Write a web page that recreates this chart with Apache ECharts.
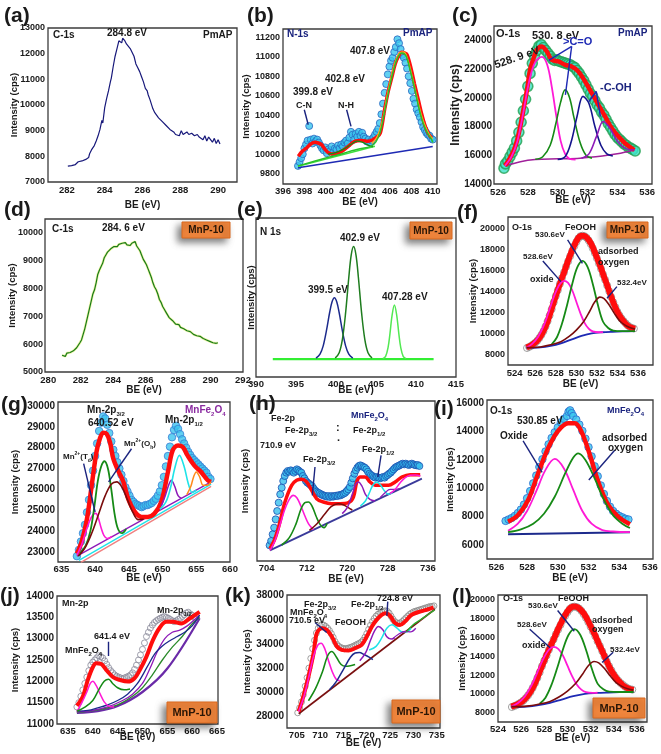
<!DOCTYPE html>
<html><head><meta charset="utf-8">
<script src="https://cdn.jsdelivr.net/npm/echarts@6/dist/echarts.min.js"></script>
<style>html,body{margin:0;padding:0;background:#fff}#c{width:661px;height:754px}</style>
</head><body><div id="c"></div>
<script>
// ---------------- tick labels ----------------
const aXT=[282,284,286,288,290], aYT=[7000,8000,9000,10000,11000,12000,13000];
const bXT=[396,398,400,402,404,406,408,410], bYT=[9800,10000,10200,10400,10600,10800,11000,11200];
const cXT=[526,528,530,532,534,536], cYT=[14000,16000,18000,20000,22000,24000];
const dXT=[280,282,284,286,288,290,292], dYT=[5000,6000,7000,8000,9000,10000];
const eXT=[390,395,400,405,410,415];
const fXT=[524,526,528,530,532,534,536], fYT=[8000,10000,12000,14000,16000,18000,20000];
const gXT=[635,640,645,650,655,660], gYT=[23000,24000,25000,26000,27000,28000,29000,30000];
const hXT=[704,712,720,728,736];
const iXT=[526,528,530,532,534,536], iYT=[6000,8000,10000,12000,14000,16000];
const jXT=[635,640,645,650,655,660,665], jYT=[11000,11500,12000,12500,13000,13500,14000];
const kXT=[705,710,715,720,725,730,735], kYT=[28000,30000,32000,34000,36000,38000];
const lXT=[524,526,528,530,532,534,536], lYT=[8000,10000,12000,14000,16000,18000,20000];

// ---------------- (a) C-1s PmAP ----------------
const aC1s=[[282.05,7620],[282.15,7600],[282.25,7640],[282.35,7610],[282.45,7680],[282.55,7700],[282.6,7790],[282.7,7740],[282.8,7820],[282.9,7780],[283.0,7880],[283.05,7830],[283.15,7950],[283.2,8100],[283.3,8250],[283.35,8180],[283.45,8420],[283.55,8600],[283.65,8800],[283.75,9050],[283.85,9400],[283.9,9300],[284.0,9900],[284.1,10250],[284.2,10550],[284.3,10900],[284.35,11050],[284.45,11500],[284.55,11900],[284.65,12200],[284.75,12500],[284.85,12560],[284.9,12420],[284.95,12600],[285.05,12520],[285.1,12580],[285.15,12380],[285.25,12450],[285.35,12200],[285.45,12150],[285.55,11900],[285.65,11600],[285.75,11450],[285.85,11300],[285.95,11100],[286.05,10900],[286.15,10650],[286.25,10550],[286.3,10400],[286.4,10200],[286.5,10150],[286.55,9850],[286.65,9700],[286.75,9650],[286.85,9500],[286.95,9450],[287.05,9350],[287.15,9300],[287.25,9200],[287.35,9150],[287.45,9050],[287.55,9000],[287.65,8950],[287.75,8850],[287.85,8900],[287.95,8800],[288.05,9000],[288.15,8850],[288.25,8900],[288.35,8950],[288.45,8850],[288.6,8900],[288.75,8800],[288.9,8850],[289.0,8750],[289.1,8800],[289.2,8650],[289.3,8800],[289.4,8600],[289.5,8750],[289.6,8650],[289.7,8550],[289.8,8700],[289.9,8500],[290.0,8650],[290.1,8480]];

// ---------------- (b) N-1s PmAP ----------------
const bData=[[397.4,9880],[397.55,9920],[397.7,9960],[397.85,10000],[398.0,10060],[398.15,10100],[398.3,10140],[398.45,10290],[398.6,10150],[398.75,10110],[398.9,10160],[399.05,10130],[399.2,10150],[399.35,10120],[399.5,10090],[399.65,10060],[399.8,10040],[399.95,10070],[400.1,10010],[400.25,10050],[400.4,10030],[400.55,10080],[400.7,10020],[400.85,10060],[401.0,10050],[401.15,10090],[401.3,10060],[401.45,10100],[401.6,10080],[401.75,10120],[401.9,10140],[402.05,10110],[402.2,10170],[402.35,10230],[402.5,10200],[402.65,10150],[402.8,10210],[402.95,10180],[403.1,10230],[403.25,10190],[403.4,10220],[403.55,10180],[403.7,10160],[403.85,10130],[404.0,10150],[404.15,10120],[404.3,10140],[404.45,10170],[404.6,10200],[404.75,10230],[404.9,10260],[405.05,10320],[405.2,10410],[405.35,10520],[405.5,10630],[405.65,10720],[405.8,10820],[405.95,10900],[406.1,10960],[406.25,10990],[406.4,11050],[406.55,11100],[406.7,11180],[406.85,11140],[407.0,11080],[407.15,11020],[407.3,10990],[407.45,10940],[407.6,10880],[407.75,10800],[407.9,10730],[408.05,10650],[408.2,10570],[408.35,10520],[408.5,10460],[408.65,10420],[408.8,10380],[408.95,10330],[409.1,10280],[409.25,10250],[409.4,10220],[409.55,10200],[409.7,10190],[409.85,10160],[410.0,10150]];
const bFit=[[397.43,9978],[397.8,10030],[398.2,10064],[398.6,10105],[398.99,10122],[399.3,10115],[399.6,10098],[399.9,10055],[400.2,10019],[400.55,10002],[400.9,10005],[401.2,10015],[401.5,10030],[402.1,10081],[402.7,10132],[403.35,10142],[403.98,10132],[404.4,10149],[404.75,10175],[405.1,10218],[405.5,10458],[405.85,10650],[406.2,10800],[406.5,10930],[406.8,11005],[407.1,11046],[407.35,11040],[407.6,11023],[408.0,10868],[408.3,10720],[408.65,10560],[409.0,10400],[409.3,10286],[409.6,10210],[409.9,10166]];
const bBig=[[397.4,9880],[399.0,9930],[401.0,9990],[403.0,10050],[404.2,10080],[404.7,10130],[405.1,10230],[405.5,10440],[405.9,10660],[406.3,10850],[406.7,10990],[407.1,11040],[407.5,11010],[407.9,10860],[408.3,10680],[408.7,10480],[409.1,10320],[409.5,10220],[409.9,10150],[410.0,10120]];
const bBigOr=[[404.3,10110],[404.8,10180],[405.3,10350],[405.7,10580],[406.1,10790],[406.5,10950],[406.9,11040],[407.3,11050],[407.7,10960],[408.1,10790],[408.5,10600],[408.9,10420],[409.3,10290],[409.7,10200],[410.0,10160]];
const bNH=[[400.2,10000],[401.0,10020],[401.8,10060],[402.4,10105],[402.9,10135],[403.4,10125],[403.9,10095],[404.4,10075]];
const bBg=[[397.4,9875],[404.6,10082]];
const bBase=[[397.4,9862],[410.0,10080]];

// ---------------- (c) O-1s PmAP ----------------
const cData=[[526.4,15100],[526.5,15400],[526.65,15600],[526.8,15900],[526.95,16200],[527.1,16500],[527.25,17000],[527.4,17600],[527.55,18300],[527.7,19100],[527.85,19900],[528.0,20800],[528.15,21700],[528.3,22400],[528.45,22900],[528.6,23300],[528.75,23600],[528.9,23700],[529.05,23500],[529.2,23300],[529.35,23100],[529.5,22900],[529.65,22700],[529.8,22600],[529.95,22650],[530.1,22550],[530.25,22500],[530.4,22450],[530.55,22400],[530.7,22350],[530.85,22300],[531.0,22200],[531.15,22100],[531.3,21900],[531.45,21700],[531.6,21450],[531.75,21200],[531.9,20900],[532.05,20600],[532.2,20300],[532.35,20100],[532.5,19800],[532.65,19500],[532.8,19300],[532.95,19000],[533.1,18800],[533.25,18500],[533.4,18200],[533.55,17950],[533.7,17700],[533.85,17450],[534.0,17250],[534.15,17100],[534.3,16950],[534.45,16800],[534.6,16700],[534.75,16550],[534.9,16500],[535.05,16400],[535.2,16300]];
const cFit=[[526.47,15280],[526.8,15800],[527.15,16600],[527.45,17800],[527.7,19150],[527.95,20600],[528.15,21950],[528.4,22800],[528.6,23350],[528.93,23580],[529.27,23230],[529.6,22650],[530.05,22530],[530.5,22300],[530.94,22180],[531.39,21830],[531.84,21140],[532.29,20330],[532.73,19510],[533.18,18700],[533.63,17880],[534.08,17300],[534.52,16840],[534.97,16490],[535.15,16370]];
const cMag=[[526.47,15280],[526.9,15900],[527.3,17000],[527.7,19000],[528.1,21200],[528.5,22500],[528.95,22850],[529.3,22300],[529.6,20800],[529.9,18800],[530.2,17000],[530.5,16100],[530.8,15750],[531.2,15700]];
const cGreen=[[528.5,15720],[529.0,15900],[529.5,16700],[529.9,18300],[530.2,19700],[530.5,20550],[530.8,20000],[531.1,18600],[531.5,16900],[531.9,16000],[532.3,15800]];
const cBlue=[[530.0,15700],[530.5,15900],[530.9,16900],[531.3,18700],[531.7,20100],[532.1,19600],[532.5,18000],[532.9,16700],[533.3,16100],[533.7,15950]];
const cPurple=[[531.6,15800],[532.1,16100],[532.6,17300],[533.06,18350],[533.5,17900],[534.0,17000],[534.5,16500],[535.15,16370]];
const cBase=[[526.47,15250],[527.5,15550],[528.5,15700],[530.0,15750],[531.5,15800],[533.0,15950],[534.0,16100],[535.15,16370]];

// ---------------- (d) C-1s MnP-10 ----------------
const dC1s=[[280.85,5600],[280.95,5650],[281.05,5560],[281.15,5680],[281.25,5620],[281.35,5700],[281.45,5650],[281.55,5760],[281.65,5800],[281.75,5870],[281.85,5930],[281.95,6050],[282.05,6150],[282.15,6350],[282.25,6550],[282.35,6800],[282.45,7050],[282.55,7300],[282.65,7550],[282.75,7800],[282.85,7950],[282.95,8200],[283.05,8500],[283.15,8650],[283.25,8700],[283.35,8900],[283.45,9100],[283.55,9200],[283.65,9300],[283.75,9350],[283.85,9420],[283.95,9480],[284.05,9500],[284.15,9540],[284.25,9500],[284.35,9580],[284.45,9560],[284.55,9620],[284.65,9580],[284.75,9640],[284.85,9560],[284.95,9600],[285.05,9540],[285.15,9620],[285.25,9560],[285.35,9680],[285.45,9520],[285.55,9480],[285.65,9350],[285.75,9200],[285.85,9050],[285.95,8950],[286.05,8850],[286.15,8700],[286.25,8550],[286.35,8400],[286.45,8200],[286.55,8050],[286.65,7950],[286.75,7800],[286.85,7600],[286.95,7500],[287.05,7350],[287.15,7250],[287.25,7150],[287.35,7050],[287.45,6950],[287.55,6900],[287.65,6850],[287.75,6780],[287.85,6720],[287.95,6650],[288.05,6700],[288.15,6600],[288.25,6620],[288.35,6550],[288.45,6500],[288.55,6480],[288.65,6420],[288.75,6450],[288.85,6380],[288.95,6350],[289.05,6320],[289.15,6300],[289.25,6260],[289.35,6280],[289.45,6220],[289.55,6200],[289.65,6180],[289.75,6150],[289.85,6120],[289.95,6100],[290.05,6080],[290.15,6050],[290.25,6100],[290.35,6030],[290.45,6050]];

// ---------------- (e) N 1s MnP-10 (relative units) ----------------
const eBlue=[[397.5,119],[398.0,144],[398.4,196],[398.8,290],[399.2,404],[399.5,472],[399.8,499],[400.1,472],[400.4,404],[400.8,290],[401.2,196],[401.6,144],[402.1,119]];
const eGreen=[[399.9,119],[400.4,153],[400.8,237],[401.2,403],[401.6,626],[401.9,766],[402.2,820],[402.5,766],[402.8,626],[403.2,403],[403.6,237],[404.0,153],[404.5,119]];
const eLight=[[405.85,115],[406.2,130],[406.5,183],[406.75,274],[407.0,385],[407.3,453],[407.6,385],[407.85,274],[408.1,183],[408.4,130],[408.75,115]];
const eBase=[[392.1,113],[412.2,113]];

// ---------------- (f)/(l) O-1s MnP-10 ----------------
const fData=[[525.2,8600],[525.4,8700],[525.6,8800],[525.8,8950],[526.0,9100],[526.2,9300],[526.4,9550],[526.6,9850],[526.8,10200],[527.0,10650],[527.2,11150],[527.4,11700],[527.6,12300],[527.8,12950],[528.0,13550],[528.2,14100],[528.4,14700],[528.6,15250],[528.8,15800],[529.0,16350],[529.2,16850],[529.4,17350],[529.6,17850],[529.8,18300],[530.0,18700],[530.2,19050],[530.4,19250],[530.6,19300],[530.8,19250],[531.0,19100],[531.2,18850],[531.4,18500],[531.6,18100],[531.8,17650],[532.0,17150],[532.2,16650],[532.4,16150],[532.6,15600],[532.8,15100],[533.0,14550],[533.2,14000],[533.4,13450],[533.6,12950],[533.8,12500],[534.0,12050],[534.2,11700],[534.4,11400],[534.6,11150],[534.8,10950],[535.0,10750],[535.2,10600],[535.4,10500],[535.6,10450]];
const fFit=[[525.15,8640],[525.6,8850],[526.1,9200],[526.6,9850],[527.07,10800],[527.55,12200],[528.03,13650],[528.43,14800],[528.83,15870],[529.15,16800],[529.47,17620],[529.8,18400],[530.11,18980],[530.35,19250],[530.59,19300],[530.83,19250],[531.07,19050],[531.4,18600],[531.71,17940],[532.03,17150],[532.35,16350],[532.67,15450],[532.99,14600],[533.31,13700],[533.63,12860],[533.95,12150],[534.27,11590],[534.6,11150],[534.91,10800],[535.3,10550],[535.71,10410]];
const fOxide=[[525.15,8650],[525.7,9000],[526.3,9700],[526.9,10900],[527.4,12300],[527.9,13700],[528.4,14700],[528.8,15000],[529.2,14800],[529.6,14100],[530.0,13000],[530.4,11900],[530.8,11000],[531.2,10450],[531.6,10180],[532.2,10100],[532.6,10120]];
const fFeOOH=[[527.6,8950],[528.1,9600],[528.6,10900],[529.1,12700],[529.6,14700],[530.1,16300],[530.6,16900],[531.1,16300],[531.6,14700],[532.1,12700],[532.6,11100],[533.1,10500],[533.6,10250],[534.5,10200],[535.71,10200]];
const fAds=[[525.15,8640],[526.5,8700],[527.5,8900],[528.5,9200],[529.3,9700],[530.0,10300],[530.7,11100],[531.3,12100],[531.8,13000],[532.3,13450],[532.7,13300],[533.2,12700],[533.7,11900],[534.2,11200],[534.7,10800],[535.2,10550],[535.71,10400]];
const fBase=[[525.15,8600],[526.5,8650],[527.5,8800],[528.5,9050],[529.5,9400],[530.5,9750],[531.5,10000],[532.5,10100],[533.5,10150],[534.5,10180],[535.71,10200]];

// ---------------- (g) Mn-2p MnFe2O4 ----------------
const gData=[[637.3,22800],[637.6,23100],[637.9,23500],[638.2,23900],[638.5,24300],[638.8,24900],[639.1,25500],[639.4,26200],[639.7,26900],[640.0,27600],[640.3,28200],[640.6,28800],[640.9,29200],[641.2,29500],[641.5,29400],[641.8,29100],[642.1,28700],[642.4,28300],[642.7,27900],[643.0,27600],[643.3,27300],[643.6,27000],[643.9,26700],[644.2,26400],[644.5,26100],[644.8,25900],[645.1,25700],[645.4,25500],[645.7,25400],[646.0,25300],[646.3,25250],[646.6,25200],[646.9,25150],[647.2,25200],[647.5,25250],[647.8,25250],[648.1,25300],[648.4,25350],[648.7,25450],[649.0,25550],[649.3,25700],[649.6,25900],[649.9,26200],[650.2,26600],[650.5,27100],[650.8,27600],[651.1,28050],[651.4,28500],[651.7,28850],[652.0,29050],[652.3,28900],[652.6,28650],[652.9,28400],[653.2,28200],[653.5,28000],[653.8,27800],[654.1,27650],[654.4,27500],[654.7,27400],[655.0,27300],[655.3,27200],[655.6,27100],[655.9,27000],[656.2,26900],[656.5,26800],[656.8,26600],[657.1,26500]];
const gFit=[[637.3,22920],[638.0,23480],[638.8,24600],[639.5,26200],[640.2,27790],[640.7,28430],[641.2,28720],[641.7,28670],[642.2,28270],[642.7,27470],[643.4,26910],[644.2,26360],[644.9,25560],[645.9,24920],[646.9,24680],[647.8,24680],[648.8,24840],[649.8,25400],[650.8,26840],[651.5,27870],[652.3,28110],[653.0,28030],[653.7,27630],[654.7,27150],[655.7,26840],[656.7,26440],[657.2,26360]];
const gTd=[[637.3,22850],[638.0,23350],[638.6,23950],[639.2,24500],[639.7,24800],[640.1,24850],[640.5,24600],[640.9,24150],[641.3,23800],[641.8,23650],[642.5,23750]];
const gOh=[[637.8,22950],[638.6,23300],[639.3,24000],[639.9,25200],[640.4,26400],[640.9,27100],[641.4,27350],[641.9,27000],[642.4,26000],[642.9,24800],[643.4,24100],[644.0,23900],[644.6,24100]];
const gMar=[[637.5,22800],[638.5,23200],[639.5,23900],[640.5,24800],[641.5,25700],[642.4,26250],[643.2,26360],[644.0,26100],[644.8,25500],[645.6,24900],[646.4,24550],[647.2,24570]];
const gPur=[[649.8,25200],[650.4,25700],[650.9,26200],[651.3,26440],[651.8,26150],[652.3,25700],[652.8,25570]];
const gCyan=[[649.6,25050],[650.5,25400],[651.2,26100],[651.8,27000],[652.5,27630],[653.2,27100],[653.8,26300],[654.4,25850],[655.0,25960]];
const gOrange=[[653.6,25750],[654.2,26150],[654.6,26600],[655.0,26840],[655.5,26600],[656.0,26200],[656.6,26200],[657.2,26360]];
const gBaseA=[[637.3,22800],[657.2,26360]], gBaseB=[[637.6,22600],[657.2,26250]], gBaseC=[[637.9,22500],[657.2,26150]];

// ---------------- (h) Fe-2p MnFe2O4 (relative units) ----------------
const hData=[[704.6,47],[704.9,60],[705.2,80],[705.5,100],[705.8,125],[706.1,150],[706.4,175],[706.7,200],[707.0,220],[707.3,240],[707.6,255],[707.9,265],[708.2,270],[708.5,268],[708.8,272],[709.1,270],[709.4,265],[709.7,270],[710.0,275],[710.3,272],[710.6,268],[710.9,265],[711.2,255],[711.5,248],[711.8,240],[712.1,235],[712.4,232],[712.7,228],[713.0,225],[713.3,218],[713.6,212],[713.9,208],[714.2,205],[714.5,203],[714.8,200],[715.1,198],[715.4,196],[715.7,195],[716.0,193],[716.3,195],[716.6,192],[716.9,195],[717.2,193],[717.5,195],[717.8,196],[718.1,195],[718.4,198],[718.7,197],[719.0,200],[719.3,202],[719.6,205],[719.9,210],[720.2,215],[720.5,222],[720.8,235],[721.1,248],[721.4,262],[721.7,272],[722.0,280],[722.3,285],[722.6,287],[722.9,285],[723.2,282],[723.5,280],[723.8,275],[724.1,268],[724.4,262],[724.7,258],[725.0,255],[725.3,252],[725.6,250],[725.9,252],[726.2,250],[726.5,248],[726.8,250],[727.1,252],[727.4,250],[727.7,255],[728.0,258],[728.3,262],[728.6,265],[728.9,270],[729.2,275],[729.5,280],[729.8,283],[730.1,285],[730.4,287],[730.7,290],[731.0,292],[731.3,290],[731.6,292],[731.9,290],[732.2,288],[732.5,290],[732.8,292],[733.1,290],[733.4,288],[733.7,287],[734.0,288],[734.3,285]];
const hFit=[[704.66,37],[705.66,67],[706.65,117],[707.64,177],[708.97,227],[709.96,242],[710.95,245],[711.95,237],[712.94,212],[713.93,187],[715.26,177],[716.91,172],[718.57,172],[720.23,175],[721.22,192],[721.88,237],[722.54,252],[723.54,252],[724.53,237],[725.52,227],[726.85,227],[728.17,227],[729.5,237],[730.82,252],[732.48,259],[734.46,259]];
const hMag=[[704.66,32],[705.5,55],[706.5,100],[707.5,150],[708.5,185],[709.3,197],[710.0,190],[710.8,165],[711.6,135],[712.3,112],[712.9,100],[713.3,94]];
const hGreen=[[707.0,48],[708.5,70],[709.8,110],[710.8,155],[711.6,175],[712.3,177],[713.0,165],[713.8,135],[714.6,110],[715.4,100],[716.0,113]];
const hMaroon=[[712.5,92],[714.0,112],[715.5,140],[716.8,163],[718.2,172],[719.3,168],[720.2,160],[721.0,153]];
const hPurple=[[719.0,142],[720.0,160],[721.0,200],[721.6,228],[722.2,237],[722.9,225],[723.6,200],[724.5,185],[725.5,180]];
const hCyan=[[722.6,165],[723.6,180],[724.4,205],[725.1,228],[725.85,237],[726.6,228],[727.4,210],[728.2,200],[729.0,205]];
const hPurple2=[[726.5,190],[727.5,205],[728.5,215],[729.5,215],[730.5,218]];
const hMag2=[[728.5,202],[729.5,215],[730.5,235],[731.5,250],[732.5,257],[733.5,258],[734.5,255]];
const hBase=[[704.66,32],[734.8,247]];

// ---------------- (i) O-1s MnFe2O4 ----------------
const iData=[[526.6,7700],[526.8,7800],[527.0,7900],[527.2,8050],[527.4,8250],[527.6,8500],[527.8,8850],[528.0,9300],[528.2,9800],[528.4,10350],[528.6,10900],[528.8,11500],[529.0,12050],[529.2,12600],[529.4,13100],[529.6,13550],[529.8,13950],[530.0,14300],[530.2,14650],[530.4,14900],[530.6,15100],[530.7,15400],[530.8,15500],[530.9,15300],[531.0,15100],[531.2,14850],[531.4,14500],[531.6,14050],[531.8,13500],[532.0,12900],[532.2,12250],[532.4,11550],[532.6,10850],[532.8,10200],[533.0,9600],[533.2,9100],[533.4,8700],[533.6,8400],[533.8,8200],[534.0,8050],[534.2,7950],[534.4,7850],[534.6,7800]];
const iFit=[[526.76,7647],[527.41,8118],[528.07,9176],[528.72,11059],[529.37,12824],[530.02,14047],[530.67,14588],[531.11,14588],[531.54,14000],[532.09,12353],[532.63,10471],[533.28,8824],[533.93,8000],[534.7,7459]];
const iOxide=[[526.76,7000],[527.4,7500],[528.0,8400],[528.6,9800],[529.2,11300],[529.8,12070],[530.4,11400],[531.0,9900],[531.6,8400],[532.2,7500],[532.9,7050],[533.6,6950],[534.7,6900]];
const iAds=[[526.76,6900],[527.6,7100],[528.4,7500],[529.1,8200],[529.8,9400],[530.5,11100],[531.0,12150],[531.33,12470],[531.8,12000],[532.4,10700],[533.0,9200],[533.6,8100],[534.2,7500],[534.7,7200]];
const iBase=[[526.76,6750],[534.7,6900]];

// ---------------- (j) Mn-2p MnP-10 ----------------
const jData=[[636.8,11400],[637.2,11500],[637.6,11650],[638.0,11800],[638.4,11950],[638.8,12100],[639.2,12250],[639.6,12380],[640.0,12450],[640.4,12500],[640.8,12550],[641.2,12600],[641.6,12580],[642.0,12550],[642.4,12480],[642.8,12400],[643.2,12320],[643.6,12250],[644.0,12200],[644.4,12150],[644.8,12120],[645.2,12100],[645.6,12080],[646.0,12060],[646.4,12080],[646.8,12100],[647.2,12120],[647.6,12150],[648.0,12200],[648.4,12280],[648.8,12380],[649.2,12500],[649.6,12620],[650.0,12750],[650.4,12900],[650.8,13050],[651.2,13150],[651.6,13250],[652.0,13320],[652.4,13380],[652.8,13420],[653.2,13450],[653.6,13480],[654.0,13500],[654.4,13520],[654.8,13500],[655.2,13480],[655.6,13450],[656.0,13420],[656.4,13400],[656.8,13420],[657.2,13450],[657.6,13480],[658.0,13520],[658.4,13560],[658.8,13600],[659.2,13620],[659.6,13580],[660.0,13550],[660.4,13500],[660.8,13450]];
const jFit=[[636.8,11428],[638.0,11645],[639.0,12034],[640.0,12330],[640.7,12423],[641.7,12407],[642.7,12267],[644.1,12096],[645.4,12034],[647.1,11995],[648.4,12073],[649.4,12252],[650.8,12579],[652.1,12967],[653.5,13263],[654.8,13395],[656.1,13395],[657.8,13356],[659.5,13473],[661.5,13628]];
const jMag=[[636.8,11290],[637.8,11500],[638.8,11750],[639.5,11950],[640.0,12000],[640.7,11900],[641.5,11700],[642.3,11520],[643.2,11420],[644.3,11400]];
const jGreen=[[636.8,11300],[638.5,11400],[640.0,11550],[641.2,11800],[642.3,12000],[643.2,12050],[644.0,11950],[645.0,11850],[646.3,11800],[647.5,11820]];
const jNavy=[[636.8,11300],[639.0,11320],[641.0,11380],[643.0,11450],[645.0,11550],[647.0,11700],[649.0,11950],[651.0,12350],[652.5,12650],[654.0,12830],[655.5,12950],[657.0,13050],[658.5,13150],[660.0,13300],[661.5,13550]];
const jPurple=[[636.8,11280],[640.0,11320],[643.0,11400],[646.0,11550],[648.0,11700],[650.0,11950],[651.5,12300],[653.0,12700],[654.5,13000],[656.0,13150],[657.5,13200],[659.0,13300],[660.5,13450],[661.5,13550]];
const jGreen2=[[636.8,11270],[641.0,11330],[645.0,11450],[648.0,11650],[650.0,11850],[652.0,12150],[654.0,12500],[656.0,12800],[658.0,13050],[660.0,13350],[661.5,13500]];
const jBase=[[636.8,11260],[641.0,11300],[645.0,11420],[650.0,11750],[655.0,12300],[661.5,13480]];

// ---------------- (k) Fe-2p MnP-10 ----------------
const kData=[[705.2,28300],[705.6,28700],[706.0,29200],[706.4,29800],[706.8,30500],[707.2,31200],[707.6,32000],[708.0,32800],[708.4,33600],[708.8,34300],[709.2,34900],[709.6,35300],[710.0,35500],[710.4,35600],[710.8,35550],[711.2,35450],[711.6,35300],[712.0,35100],[712.4,34850],[712.8,34550],[713.2,34200],[713.6,33950],[714.0,33800],[714.4,33700],[714.8,33650],[715.2,33600],[715.6,33620],[716.0,33650],[716.4,33700],[716.8,33750],[717.2,33820],[717.6,33900],[718.0,33980],[718.4,34050],[718.8,34150],[719.2,34300],[719.6,34550],[720.0,34850],[720.4,35200],[720.8,35550],[721.2,35850],[721.6,36100],[722.0,36300],[722.4,36450],[722.8,36550],[723.2,36650],[723.6,36700],[724.0,36750],[724.4,36700],[724.8,36550],[725.2,36300],[725.6,36050],[726.0,35850],[726.4,35750],[726.8,35700],[727.2,35750],[727.6,35850],[728.0,36000],[728.4,36150],[728.8,36300],[729.2,36450],[729.6,36550],[730.0,36650],[730.4,36700],[730.8,36750],[731.2,36800],[731.6,36850],[732.0,36900],[732.4,36950],[732.8,37000],[733.2,37050],[733.6,37100],[734.0,37100],[734.4,37150]];
const kFit=[[705.4,28413],[706.4,29653],[707.5,31306],[708.6,33234],[709.3,34887],[710.4,35300],[711.4,35163],[712.5,34612],[713.6,33785],[714.6,33510],[716.1,33455],[717.5,33647],[718.9,33923],[720.0,34612],[721.1,35438],[722.1,35989],[723.2,36402],[724.1,36540],[725.0,36320],[726.1,35713],[727.1,35576],[728.2,35851],[729.6,36402],[731.4,36678],[733.2,36871],[734.3,37036]];
const kMag=[[705.4,28400],[706.5,29600],[707.6,31300],[708.6,33000],[709.5,33900],[710.2,34060],[711.0,33600],[711.8,32600],[712.6,31700],[713.4,31100],[714.2,30950]];
const kGreen=[[707.5,29300],[709.0,30300],[710.5,31700],[711.6,33000],[712.5,33370],[713.5,32900],[714.5,32300],[715.5,32150],[716.5,32200],[717.5,32300]];
const kNavy=[[712.0,30200],[713.5,30900],[715.0,31900],[716.5,32900],[717.5,33250],[718.4,33290],[719.5,33100],[720.5,32900],[721.3,32700]];
const kPurple=[[718.5,32600],[719.8,33300],[720.8,34300],[721.7,35100],[722.5,35440],[723.4,35200],[724.3,34600],[725.2,34400],[726.0,34500]];
const kCyan=[[720.5,33500],[722.0,33800],[723.2,34500],[724.3,35300],[725.4,35580],[726.5,35300],[727.5,35000],[728.5,35000],[729.5,35300]];
const kPurple2=[[725.5,34400],[726.8,34800],[728.2,35030],[729.4,35000],[730.5,35300]];
const kGreen2=[[728.5,35000],[730.0,35600],[731.5,36000],[733.0,36400],[734.5,36800]];
const kBase=[[705.4,28220],[734.6,36870]];

// ---------------- annotation arrows (data coordinates) ----------------
const bArrows=[[[397.99,10457],[398.36,10303]],[[401.95,10457],[402.36,10286]]];
const cArrows=[[[530.94,23581],[529.4,22605]],[[530.94,23581],[530.52,20209]],[[532.59,20442],[532.1,19744]],[[532.59,20442],[532.87,18698]]];
const fArrows=[[[529.15,18889],[530.59,16667]],[[526.74,16889],[528.5,14920]],[[533.95,14444],[532.99,13333]]];
const gArrows=[[[645.4,27950],[642.0,26360]],[[638.3,27235],[640.0,24918]]];
const hArrows=[[[713.6,282],[713.07,197]],[[726.7,317],[726.05,252]]];
const iArrows=[[[527.74,13341],[528.98,11129]],[[533.72,12706],[532.02,10588]]];
const jArrows=[[[643.05,12928],[643.05,12594]]];
const kArrows=[[[708.9,35769],[711.4,34943]],[[724.5,37505],[724.3,36320]]];

// =============== build ===============
const FF='"Liberation Sans", Arial, Helvetica, sans-serif';
const C={navy:'#1a237e',mag:'#ff19d6',green:'#168a16',maroon:'#7a0c0c',red:'#ff0d0d',purple:'#8e1ab8',cyan:'#1ee3e8',orange:'#ff8a1a',blue:'#1e2ab4',dark:'#1a1a1a'};
const grids=[],xAxes=[],yAxes=[],series=[],graphic=[];
function line(data,color,width,o){o=o||{};return {type:'line',data,showSymbol:false,smooth:o.smooth===undefined?0.35:o.smooth,lineStyle:Object.assign({color,width},o.ls||{}),z:o.z||3};}
function dots(data,fill,stroke,size,bw){return {type:'scatter',data,symbol:'circle',symbolSize:size,itemStyle:{color:fill,borderColor:stroke,borderWidth:bw||1},z:2};}
function arrows(list,color){return {type:'scatter',data:[],z:6,markLine:{silent:true,animation:false,symbol:['none','arrow'],symbolSize:[0,7],label:{show:false},lineStyle:{color,width:1.4,type:'solid'},emphasis:{disabled:true},data:list.map(p=>[{coord:p[0]},{coord:p[1]}])}};}
function panel(p){
  const i=grids.length,[l,t,r,b]=p.box;
  grids.push({left:l,top:t,width:r-l,height:b-t,show:true,borderColor:'#3c3c3c',borderWidth:1.3,backgroundColor:'transparent',containLabel:false});
  const lab=(vals,fs,m)=>({show:!!vals,customValues:vals||[],formatter:v=>String(v),fontFamily:FF,fontWeight:'bold',fontSize:fs,color:'#1a1a1a',margin:m});
  xAxes.push({gridIndex:i,type:'value',min:p.x[0],max:p.x[1],axisLine:{show:false},axisTick:{show:false},splitLine:{show:false},
    axisLabel:lab(p.xt,p.xfs||9.5,p.xm===undefined?3:p.xm),name:'BE (eV)',nameLocation:'middle',nameGap:p.xg,nameMoveOverlap:false,
    nameTextStyle:{fontFamily:FF,fontWeight:'bold',fontSize:p.nfs||10,color:'#1a1a1a'}});
  yAxes.push({gridIndex:i,type:'value',min:p.y[0],max:p.y[1],axisLine:{show:false},axisTick:{show:false},splitLine:{show:false},
    axisLabel:lab(p.yt,p.yfs||9,p.ym||3),name:'Intensity (cps)',nameLocation:'middle',nameGap:p.yg,nameRotate:90,nameMoveOverlap:false,
    nameTextStyle:{fontFamily:FF,fontWeight:'bold',fontSize:p.ynfs||9.5,color:'#1a1a1a'}});
  p.series.forEach(s=>{s.xAxisIndex=i;s.yAxisIndex=i;s.animation=false;s.silent=true;series.push(s);});
}
function rich(fs){return {s:{fontSize:Math.round(fs*0.62),fontWeight:'bold',fontFamily:FF,verticalAlign:'bottom',lineHeight:fs+4},
  p:{fontSize:Math.round(fs*0.62),fontWeight:'bold',fontFamily:FF,verticalAlign:'top',lineHeight:fs+4},
  n:{fontSize:fs,fontWeight:'bold',fontFamily:FF,lineHeight:fs+4}};}
function txt(s,x,y,o){o=o||{};const fs=o.fs||10;const r=rich(fs);
  if(o.c){for(const k in r){r[k].fill=o.c;}}
  graphic.push({type:'text',x,y,rotation:o.rot||0,z:100,silent:true,style:{text:s,fill:o.c||C.dark,font:'bold '+fs+'px '+FF,textAlign:o.al||'left',textVerticalAlign:'middle',rich:r}});}
function plab(s,x,y){txt(s,x,y,{fs:21});}
function badge(x,y,w,h,fs){graphic.push({type:'rect',z:90,silent:true,shape:{x,y,width:w,height:h},style:{fill:'#f0853c',stroke:'#d9681f',lineWidth:1,shadowBlur:7,shadowOffsetX:-4,shadowOffsetY:4,shadowColor:'rgba(0,0,0,0.5)'}});
  txt('MnP-10',x+w/2,y+h/2+0.5,{al:'center',fs:fs||10,c:'#2b1606'});}

// (a)
panel({box:[48,28,237,182],x:[281,291],y:[7000,13000],xt:aXT,yt:aYT,yg:29,xg:18,series:[line(aC1s,'#17187a',1.2,{smooth:false})]});
// (b)
panel({box:[283,29,437,184],x:[396,410.4],y:[9694,11286],xt:bXT,yt:bYT,yg:32,xg:13,xm:2,series:[
  dots(bData,'#38c6ee','#2a66c0',7),line(bBase,C.blue,1.5,{smooth:false}),line(bBg,'#3ee03e',1.5,{smooth:false}),
  line(bFit,C.red,3.5),line(bNH,C.green,1.3),line(bBigOr,'#ffb020',1.3),line(bBig,'#2ac02a',1.5),arrows(bArrows,C.navy)]});
// (c)
panel({box:[494,26,652,184],x:[525.73,536.33],y:[14000,25000],xt:cXT,yt:cYT,yg:32,ym:2,xg:11,ynfs:12,yfs:10,series:[
  dots(cData,'#3fe2c8','#22a050',10,1.6),line(cBase,'#a0209a',1.5),line(cFit,C.red,4.5),
  line(cMag,C.mag,1.8),line(cGreen,C.green,1.6),line(cBlue,'#14148c',1.6),line(cPurple,C.purple,1.6),arrows(cArrows,C.blue)]});
// (d)
panel({box:[45,219,243,372],x:[279.8,292],y:[5000,10490],xt:dXT,yt:dYT,yg:28,ym:2,xg:13,series:[
  line(dC1s,'#eef6a8',2.6,{smooth:false,z:2}),line(dC1s,'#197a19',1.2,{smooth:false})]});
// (e)
panel({box:[256,218,456,377],x:[390,415],y:[0,1000],xt:eXT,yt:null,yg:0,xg:8,xm:2,series:[
  line(eBase,'#33ee33',2.2,{smooth:false}),line(eBlue,'#1c2a8c',1.5),line(eGreen,'#1e7c1e',1.5),line(eLight,'#52e852',1.5)]});
// (f)
panel({box:[508,217,653,365],x:[523.35,537.46],y:[6980,21080],xt:fXT,yt:fYT,yg:30,xg:14,series:[
  dots(fData,'rgba(255,255,255,0)','#8a8a8a',7,1),line(fBase,C.blue,1.8),line(fFit,C.red,6),
  line(fOxide,C.mag,1.8),line(fFeOOH,C.green,1.8),line(fAds,C.maroon,1.6),arrows(fArrows,C.navy)]});
// (g)
panel({box:[58,402,230,562],x:[634.5,660],y:[22520,30190],xt:gXT,yt:gYT,yg:38,yfs:10,xg:11,xm:2,series:[
  dots(gData,'#3cc4ee','#3a7ed4',7.5),line(gBaseC,'#f08080',1.4,{smooth:false}),line(gBaseB,C.cyan,1.4,{smooth:false}),line(gBaseA,C.purple,1.4,{smooth:false}),
  line(gFit,C.red,4.5),line(gTd,C.mag,1.6),line(gOh,C.green,1.8),line(gMar,C.maroon,1.6),line(gPur,C.purple,1.5),line(gCyan,C.cyan,1.6),line(gOrange,C.orange,1.5),arrows(gArrows,C.navy)]});
// (h)
panel({box:[257,401,435,561],x:[702.1,737.4],y:[0,480],xt:hXT,yt:null,yg:7,xg:13,xm:2,series:[
  dots(hData,'#36bfee','#1c4fb0',7),line(hBase,'#3a3a9a',1.8,{smooth:false}),line(hFit,C.red,3.5),
  line(hMag,C.mag,1.6),line(hGreen,C.green,1.6),line(hMaroon,C.maroon,1.5),line(hPurple,C.purple,1.5),line(hCyan,C.cyan,1.5),line(hPurple2,C.purple,1.3),line(hMag2,C.mag,1.5),arrows(hArrows,C.navy)]});
// (i)
panel({box:[487,400,653,559],x:[525.39,536.2],y:[5010,16230],xt:iXT,yt:iYT,yg:32,yfs:10,xg:14,xm:3,series:[
  dots(iData,'#38c6ee','#2a6ad0',7.5),line(iBase,'#1c2a8c',2,{smooth:false}),line(iFit,C.red,4.5),
  line(iOxide,C.mag,1.8),line(iAds,C.green,1.8),arrows(iArrows,C.navy)]});
// (j)
panel({box:[57,596,218,724],x:[632.8,665.2],y:[11000,14000],xt:jXT,yt:jYT,yg:37,yfs:10,xg:8,xm:2,series:[
  dots(jData,'rgba(255,255,255,0)','#8a8a9a',6,1),line(jBase,'#6a2aa8',2.2),line(jGreen2,'#2a8a2a',1.3),line(jPurple,C.purple,1.3),line(jNavy,'#1c2a8c',1.3),
  line(jFit,C.red,4),line(jMag,C.mag,1.5),line(jGreen,C.green,1.5),arrows(jArrows,C.navy)]});
// (k)
panel({box:[287,595,440,728],x:[702.9,735.7],y:[27040,38050],xt:kXT,yt:kYT,yg:35,yfs:10,xg:10,xm:2,series:[
  dots(kData,'rgba(255,255,255,0)','#8a8a8a',6,1),line(kBase,'#7a1010',1.6,{smooth:false}),line(kFit,C.red,4),
  line(kMag,C.mag,1.6),line(kGreen,C.green,1.6),line(kNavy,'#1c2a8c',1.5),line(kPurple,C.purple,1.5),line(kCyan,C.cyan,1.5),line(kPurple2,C.purple,1.3),line(kGreen2,'#2ab02a',1.3),arrows(kArrows,C.navy)]});
// (l)
panel({box:[498,595,647,722],x:[524,536.87],y:[7006,20534],xt:lXT,yt:lYT,yg:31,xg:11,xm:2,series:[
  dots(fData,'rgba(255,255,255,0)','#8a8a8a',7,1),line(fBase,C.blue,1.8),line(fFit,C.red,6),
  line(fOxide,C.mag,1.8),line(fFeOOH,C.green,1.8),line(fAds,C.maroon,1.6),arrows(fArrows,C.navy)]});

// ---------- text annotations ----------
plab('(a)',4,16); txt('C-1s',53,35); txt('284.8 eV',107,33); txt('PmAP',203,35);
plab('(b)',247,16); txt('N-1s',287,34,{c:C.navy}); txt('PmAP',403,33,{c:C.navy}); txt('407.8 eV',350,51); txt('402.8 eV',325,79); txt('399.8 eV',293,92); txt('C-N',296,106,{fs:9}); txt('N-H',338,106,{fs:9});
plab('(c)',452,16); txt('O-1s',496,34,{fs:11}); txt('530. 8 eV',532,36,{fs:11}); txt('528. 9 eV',517,58,{fs:11,al:'center',rot:0.33}); txt('>C=O',563,42,{c:C.blue,fs:11}); txt('-C-OH',600,88,{c:C.navy,fs:11}); txt('PmAP',618,33,{c:C.navy});
plab('(d)',4,210); txt('C-1s',52,229); txt('284. 6 eV',102,228); badge(182,222,48,16);
plab('(e)',237,210); txt('N 1s',260,232); txt('402.9 eV',340,238); txt('399.5 eV',308,290); txt('407.28 eV',382,297); badge(410,222,42,17);
plab('(f)',457,213); txt('O-1s',512,228,{fs:9}); txt('FeOOH',565,228,{fs:9}); txt('530.6eV',535,235,{fs:8}); txt('528.6eV',523,257,{fs:8}); txt('oxide',530,280,{fs:9});
  txt('adsorbed',598,252,{fs:9}); txt('oxygen',598,263,{fs:9}); txt('532.4eV',617,283,{fs:8}); badge(607,222,41,16);
plab('(g)',1,405); txt('Mn-2p{s|3/2}',87,410,{fs:10}); txt('640.52 eV',88,423,{fs:10}); txt('MnFe{s|2}O{s|4}',185,410,{fs:10,c:'#8a2aa0'}); txt('Mn-2p{s|1/2}',165,420,{fs:10});
  txt('Mn{p|2+}(O{s|h})',124,444,{fs:8}); txt('Mn{p|2+}(T{s|d})',63,457,{fs:8});
plab('(h)',249,404); txt('Fe-2p',271,419,{fs:9}); txt('MnFe{s|2}O{s|4}',351,416,{fs:9,c:C.navy}); txt('Fe-2p{s|3/2}',285,431,{fs:9}); txt(':',336,428,{fs:11}); txt('.',337,438,{fs:11}); txt('Fe-2p{s|1/2}',353,431,{fs:9});
  txt('710.9 eV',260,446,{fs:9}); txt('Fe-2p{s|3/2}',303,460,{fs:9}); txt('Fe-2p{s|1/2}',362,450,{fs:9});
plab('(i)',434,409); txt('O-1s',490,411); txt('530.85 eV',517,421); txt('MnFe{s|2}O{s|4}',607,411,{fs:9,c:C.navy}); txt('Oxide',500,436); txt('adsorbed',602,438); txt('oxygen',608,448);
plab('(j)',0,596); txt('Mn-2p',62,604,{fs:9}); txt('Mn-2p{s|1/2}',157,611,{fs:9}); txt('641.4 eV',94,637,{fs:9}); txt('MnFe{s|2}O{s|4}',65,651,{fs:9}); badge(167,702,50,21,11);
plab('(k)',225,596); txt('Fe-2p{s|3/2}',304,605,{fs:9}); txt('MnFe{s|2}O{s|4}',290,613,{fs:9}); txt('710.5 eV',289,621,{fs:9}); txt('FeOOH',335,623,{fs:9}); txt('Fe-2p{s|1/2}',351,605,{fs:9}); txt('724.8 eV',377,599,{fs:9}); badge(392,700,48,23,11);
plab('(l)',452,597); txt('O-1s',503,599,{fs:9}); txt('FeOOH',558,599,{fs:9}); txt('530.6eV',528,606,{fs:8}); txt('528.6eV',517,625,{fs:8}); txt('oxide',522,646,{fs:9});
  txt('adsorbed',592,621,{fs:9}); txt('oxygen',592,630,{fs:9}); txt('532.4eV',610,650,{fs:8}); badge(593,698,52,20,11);

const chart=echarts.init(document.getElementById('c'),null,{renderer:'canvas'});
chart.setOption({animation:false,backgroundColor:'#fff',grid:grids,xAxis:xAxes,yAxis:yAxes,series,graphic});
</script></body></html>
